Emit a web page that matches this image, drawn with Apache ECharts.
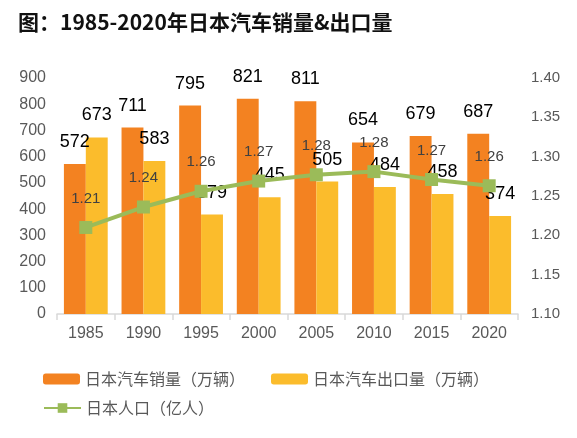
<!DOCTYPE html>
<html><head><meta charset="utf-8">
<script src="https://cdn.jsdelivr.net/npm/echarts@6/dist/echarts.min.js"></script>
<style>html,body{margin:0;padding:0;background:#fff}#c{width:577px;height:438px}</style>
</head><body><div id="c"></div>
<script>
const years = ['1985','1990','1995','2000','2005','2010','2015','2020'];
const sales = [572,711,795,821,811,654,679,687];
const exports_ = [673,583,379,445,505,484,458,374];
const population = [1.21,1.236,1.256,1.269,1.277,1.281,1.271,1.263];
const leftTicks = [0,900,100];
const rightTicks = [1.10,1.40,0.05];

const font = '"Liberation Sans", Arial, "Noto Sans CJK SC", sans-serif';
const chart = echarts.init(document.getElementById('c'));
chart.setOption({
  animation:false,
  textStyle:{fontFamily:font},
  title:{text:'图：1985-2020年日本汽车销量&出口量',left:13,top:7,
    textStyle:{fontSize:21,fontWeight:'bold',color:'#111',fontFamily:'"Noto Sans CJK SC", sans-serif'}},
  grid:{left:57,right:59,top:78,bottom:124,containLabel:false},
  legend:[{
    data:['日本汽车销量（万辆）','日本汽车出口量（万辆）'],
    left:38,top:366,itemWidth:37,itemHeight:11,itemGap:26,
    textStyle:{fontSize:16,color:'#595959',fontFamily:'"Noto Sans CJK SC", sans-serif'}
  },{
    data:['日本人口（亿人）'],
    left:38,top:395,itemWidth:37,itemHeight:12,
    textStyle:{fontSize:16,color:'#595959',fontFamily:'"Noto Sans CJK SC", sans-serif'}
  }],
  xAxis:{type:'category',data:years,
    axisLine:{lineStyle:{color:'#D9D9D9',width:1.5}},
    axisTick:{show:true,length:6,lineStyle:{color:'#D9D9D9',width:1.5}},
    axisLabel:{fontSize:16,color:'#595959',margin:12}},
  yAxis:[{type:'value',min:leftTicks[0],max:leftTicks[1],interval:leftTicks[2],
    splitLine:{show:false},axisLine:{show:false},axisTick:{show:false},
    axisLabel:{fontSize:16,color:'#595959',margin:11}},
   {type:'value',min:rightTicks[0],max:rightTicks[1],interval:rightTicks[2],
    splitLine:{show:false},axisLine:{show:false},axisTick:{show:false},
    axisLabel:{fontSize:15,color:'#595959',margin:13,formatter:v=>v.toFixed(2)}}],
  series:[
   {name:'日本汽车销量（万辆）',type:'bar',data:sales,barWidth:'38%',barGap:'0%',
    itemStyle:{color:'#F38221'},
    label:{show:true,position:'top',distance:13,fontSize:18,color:'#000'}},
   {name:'日本汽车出口量（万辆）',type:'bar',data:exports_,barWidth:'38%',barGap:'0%',
    itemStyle:{color:'#FBBC2C'},
    label:{show:true,position:'top',distance:13,fontSize:18,color:'#000'}},
   {name:'日本人口（亿人）',type:'line',yAxisIndex:1,data:population,
    symbol:'rect',symbolSize:13,
    lineStyle:{color:'#9BBB59',width:4},itemStyle:{color:'#9BBB59'},
    label:{show:true,position:'top',distance:15,fontSize:15,color:'#404040',formatter:p=>p.value.toFixed(2)}}
  ]
});
</script></body></html>
